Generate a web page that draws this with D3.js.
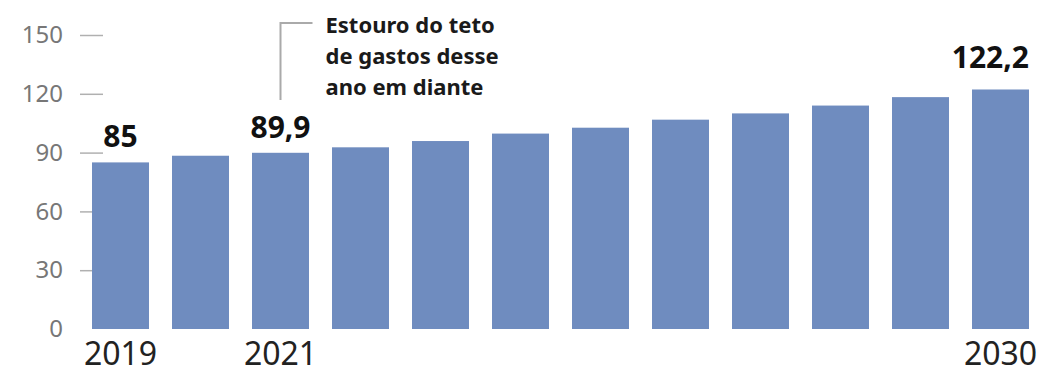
<!DOCTYPE html>
<html>
<head>
<meta charset="utf-8">
<script src="https://cdn.jsdelivr.net/npm/d3@7"></script>
<style>
  body { margin: 0; background: #fff; }
  svg { display: block; font-family: "Noto Sans", sans-serif; }
</style>
</head>
<body>
<div id="chart"></div>
<script>
// values
const years = [2019, 2020, 2021, 2022, 2023, 2024, 2025, 2026, 2027, 2028, 2029, 2030];
const values = [85, 88.4, 89.9, 92.7, 95.9, 99.7, 102.7, 106.8, 110.0, 114.0, 118.3, 122.2];
const yTicks = [0, 30, 60, 90, 120, 150];
const yearLabels = [2019, 2021, 2030];
const valueLabels = [2019, 2021, 2030];
const noteLines = ["Estouro do teto", "de gastos desse", "ano em diante"];

const WIDTH = 1047, HEIGHT = 384;
const barColor = "#6f8cbf";

const data = years.map((y, i) => ({ year: y, value: values[i] }));
const fmt = v => String(v).replace(".", ",");

const svg = d3.select("#chart").append("svg")
    .attr("width", WIDTH).attr("height", HEIGHT);

const x = d3.scaleBand().domain(years)
    .range([80.5, 1040.5])
    .paddingInner(0.2875).paddingOuter(0.14375);
const y = d3.scaleLinear().domain([0, 150]).range([329, 35]);

// y axis (drawn first, the bars sit on top of the ticks)
const yAxis = svg.append("g")
    .attr("transform", "translate(103,0)")
    .call(d3.axisLeft(y).tickValues(yTicks).tickSize(23).tickPadding(17));
yAxis.select(".domain").remove();
yAxis.selectAll(".tick line")
    .attr("stroke", "#b0b0b0").attr("stroke-width", 1.5)
    .filter(d => d === 0).remove();
yAxis.selectAll(".tick text")
    .attr("fill", "#777")
    .style("font-size", "24px")
    .style("font-family", "'Noto Sans', sans-serif");

// bars
svg.append("g").selectAll("rect")
    .data(data)
    .enter().append("rect")
    .attr("x", d => x(d.year))
    .attr("y", d => y(d.value))
    .attr("width", x.bandwidth())
    .attr("height", d => y(0) - y(d.value))
    .attr("fill", barColor);

// year labels under the bars
svg.append("g").selectAll("text")
    .data(data.filter(d => yearLabels.includes(d.year)))
    .enter().append("text")
    .attr("x", d => x(d.year) + x.bandwidth() / 2)
    .attr("y", 365)
    .attr("text-anchor", "middle")
    .attr("fill", "#222")
    .style("font-size", "32px")
    .text(d => d.year);

// value labels above selected bars
svg.append("g").selectAll("text")
    .data(data.filter(d => valueLabels.includes(d.year)))
    .enter().append("text")
    .attr("x", d => d.year === 2030 ? x(d.year) + x.bandwidth() : x(d.year) + x.bandwidth() / 2)
    .attr("y", d => y(d.value) - (d.year === 2030 ? 21 : 15))
    .attr("text-anchor", d => d.year === 2030 ? "end" : "middle")
    .attr("fill", "#111")
    .style("font-size", "30px")
    .style("font-weight", "bold")
    .text(d => fmt(d.value));

// annotation bracket + note
const noteX = x(2021) + x.bandwidth() / 2;
svg.append("path")
    .attr("d", "M" + (noteX + 32) + ",23H" + noteX + "V100")
    .attr("fill", "none")
    .attr("stroke", "#aaa")
    .attr("stroke-width", 2);

svg.append("g").selectAll("text")
    .data(noteLines)
    .enter().append("text")
    .attr("x", noteX + 45)
    .attr("y", (d, i) => 33 + i * 31)
    .attr("fill", "#1a1a1a")
    .style("font-size", "22px")
    .style("font-weight", "bold")
    .text(d => d);
</script>
</body>
</html>
